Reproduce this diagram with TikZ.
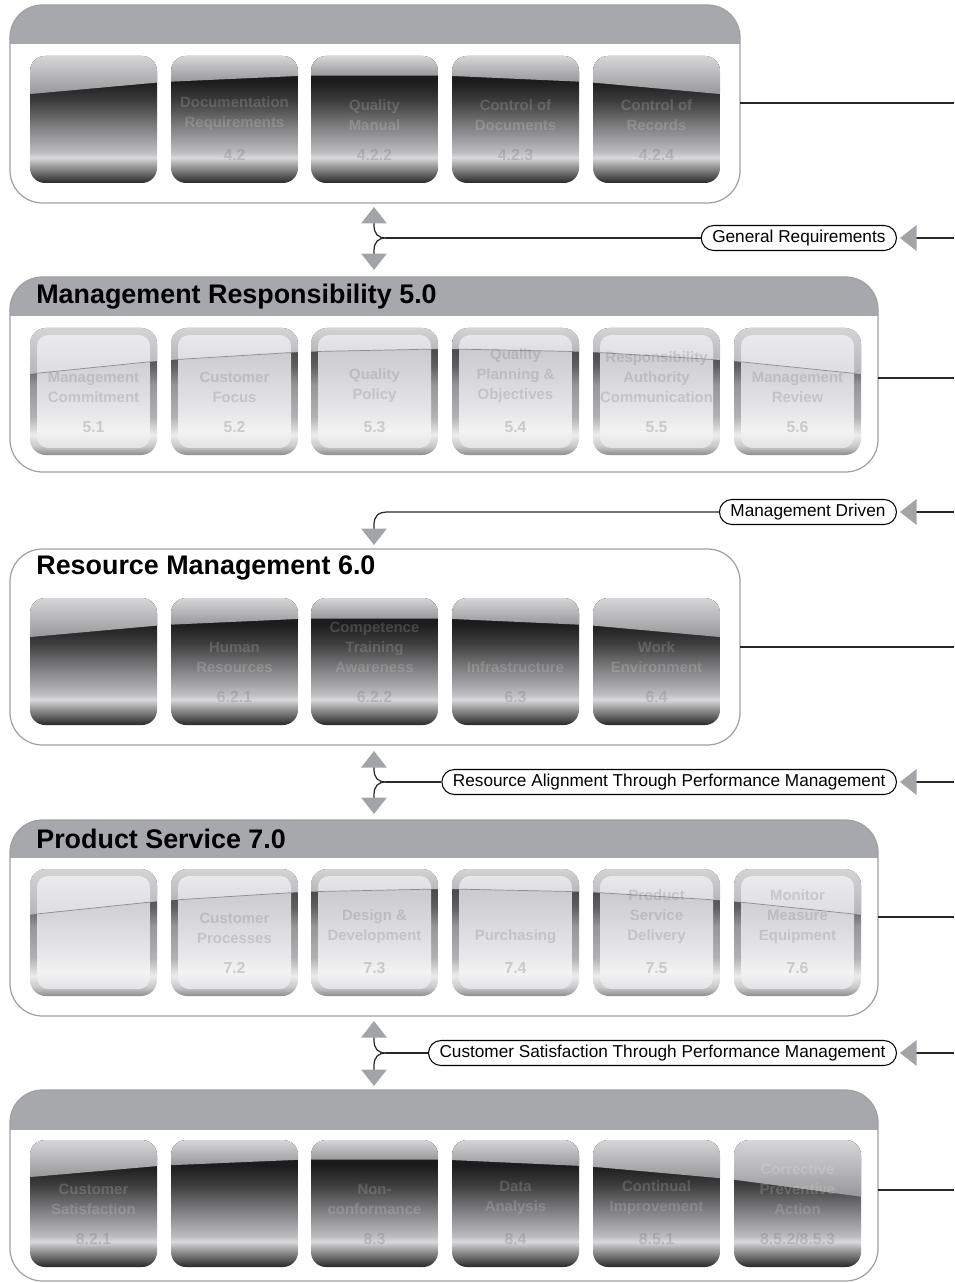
\documentclass[tikz,border=0pt]{standalone}
\usepackage{fontspec}
\setmainfont{Liberation Sans}
\usetikzlibrary{arrows.meta}

\definecolor{hdrgray}{RGB}{167,168,172}
\definecolor{panelgray}{RGB}{160,160,163}
\definecolor{arrowgray}{RGB}{163,164,167}
\definecolor{linegray}{RGB}{40,40,40}
% dark tiles
\definecolor{dk1}{RGB}{40,40,40}
\definecolor{dk2}{RGB}{100,100,100}
\definecolor{dk3}{RGB}{170,170,170}
\definecolor{dk4}{RGB}{218,218,220}
\definecolor{dk5}{RGB}{190,190,192}
\definecolor{dk6}{RGB}{125,125,127}
\definecolor{dk7}{RGB}{60,60,60}
\definecolor{dk8}{RGB}{28,28,28}
\definecolor{gltop}{RGB}{214,214,217}
\definecolor{glbot}{RGB}{152,152,155}
% light tiles
\definecolor{fr1}{RGB}{140,140,142}
\definecolor{fr2}{RGB}{200,200,202}
\definecolor{fr3}{RGB}{236,236,236}
\definecolor{fr4}{RGB}{178,178,180}
\definecolor{fr5}{RGB}{150,150,152}
\definecolor{fr6}{RGB}{95,95,97}
\definecolor{fr7}{RGB}{72,72,74}
\definecolor{frtop}{RGB}{212,212,214}
\definecolor{frbot}{RGB}{182,182,184}
\definecolor{in1}{RGB}{226,226,228}
\definecolor{in2}{RGB}{243,243,244}
\definecolor{in3}{RGB}{232,232,234}
\definecolor{in4}{RGB}{216,216,218}
\definecolor{in5}{RGB}{204,204,206}
\definecolor{intop}{RGB}{236,236,238}
\definecolor{inbot}{RGB}{222,222,224}

\pgfdeclareverticalshading{darkbody}{100bp}{color(0bp)=(dk1); color(25bp)=(dk1); color(28.5bp)=(dk2); color(32.5bp)=(dk3); color(35bp)=(dk4); color(37bp)=(dk5); color(47.5bp)=(dk6); color(57.5bp)=(dk7); color(65bp)=(dk8); color(100bp)=(dk8)}
\pgfdeclareverticalshading{framebody}{100bp}{color(0bp)=(fr1); color(25bp)=(fr1); color(28.5bp)=(fr2); color(33bp)=(fr3); color(40bp)=(fr4); color(52.5bp)=(fr5); color(60bp)=(fr6); color(67.5bp)=(fr7); color(100bp)=(fr7)}
\pgfdeclareverticalshading{innerbody}{100bp}{color(0bp)=(in1); color(25bp)=(in1); color(32.5bp)=(in2); color(40bp)=(in3); color(55bp)=(in4); color(67.5bp)=(in5); color(100bp)=(in5)}

\tikzset{
  panel/.style={draw=panelgray, line width=0.7pt, rounded corners=6.5mm},
  feed/.style={draw=linegray, line width=0.7pt},
  lbl/.style={draw=black, line width=0.6pt, fill=white, rounded corners=2.5mm, minimum height=5mm, inner xsep=2.2mm, inner ysep=0pt, font=\fontsize{9.8}{11}\selectfont},
  ttl/.style={anchor=west, inner sep=0pt, font=\bfseries\fontsize{15.3}{17}\selectfont},
  captxt/.style={anchor=south, align=center, inner sep=0pt, font=\bfseries\fontsize{8.5}{11.5}\selectfont},
  numtxt/.style={inner sep=0pt, font=\bfseries\fontsize{9}{10}\selectfont},
  glareline/.style={draw=black!45, line width=0.4pt}
}

% glare offsets of a tile at x=#1, top #2
\newcommand{\glarepts}[2]{%
  \pgfmathsetmacro\du{\rows*(#1-\rowxc)}%
  \pgfmathsetmacro\dv{\rows*(#1+127-\rowxc)}%
  \pgfmathsetmacro\gl{#2+\rowg+\du*\du}%
  \pgfmathsetmacro\gr{#2+\rowg+\dv*\dv}%
}

% #1 x, #2 top, #3 caption, #4 number, #5 name
\newcommand{\darktile}[5]{%
  \glarepts{#1}{#2}
  \begin{scope}
    \clip[rounded corners=3mm] (#1,#2) rectangle ++(127,127);
    \shade[shading=darkbody] (#1,#2) rectangle ++(127,127);
    \shade[top color=gltop, bottom color=glbot] (#1,#2) -- (#1,\gl) -- (#1+127,\gr) -- (#1+127,#2) -- cycle;%glare
  \end{scope}
  \node[captxt, text=white, text opacity=0.17] (#5c) at (#1+63.5,#2+75) {#3};
  \node[numtxt, text=black!60, text opacity=0.25] (#5n) at (#1+63.5,#2+99) {#4};
}

\newcommand{\lighttile}[5]{%
  \glarepts{#1}{#2}
  \begin{scope}
    \clip[rounded corners=3.2mm] (#1,#2) rectangle ++(127,127);
    \shade[shading=framebody] (#1,#2) rectangle ++(127,127);
    \shade[top color=frtop, bottom color=frbot] (#1,#2) -- (#1,\gl) -- (#1+127,\gr) -- (#1+127,#2) -- cycle;%glare
  \end{scope}
  \begin{scope}
    \clip[rounded corners=2.2mm] (#1+7,#2+7) rectangle (#1+120,#2+120);
    \shade[shading=innerbody] (#1+7,#2+7) rectangle (#1+120,#2+120);
    \shade[top color=intop, bottom color=inbot] (#1,#2) -- (#1,\gl) -- (#1+127,\gr) -- (#1+127,#2) -- cycle;
    \draw[glareline] (#1,\gl) -- (#1+127,\gr);
  \end{scope}
  \node[captxt, text=black!55, text opacity=0.25] (#5c) at (#1+63.5,#2+75) {#3};
  \node[numtxt, text=black!55, text opacity=0.3] (#5n) at (#1+63.5,#2+99) {#4};
}

\begin{document}
\begin{tikzpicture}[x=0.02cm, y=-0.02cm, >={Triangle[length=3.3mm,width=5.1mm,color=arrowgray]}]
\useasboundingbox (0,0) rectangle (954,1283);

%panel 1
\begin{scope}
  \clip[rounded corners=6.5mm] (10,5) rectangle (740,203);
  \fill[hdrgray] (10,5) rectangle (740,44);
\end{scope}
\draw[panel] (10,5) rectangle (740,203);
\def\rowg{19}\def\rows{0.01265}\def\rowxc{375}
\darktile{30}{56}{}{}{qa}
\darktile{171}{56}{Documentation\\Requirements}{4.2}{qb}
\darktile{311}{56}{Quality\\Manual}{4.2.2}{qc}
\darktile{452}{56}{Control of\\Documents}{4.2.3}{qd}
\darktile{593}{56}{Control of\\Records}{4.2.4}{qe}
\coordinate (p1r) at (740,103);
\coordinate (e1) at (954,103);
\draw[feed] (p1r) -- (e1);

%general requirements
\node[lbl, anchor=east] (genreq) at (897,238) {General Requirements};
\coordinate (e2) at (954,238);
\coordinate (j1) at (386,238);
\draw[feed, ->, shorten >=1.7pt] (e2) -- (genreq);
\draw[feed] (genreq) -- (j1);
\draw[feed, ->] (j1) .. controls (378,238) and (374,234) .. (374,225) -- (374,207);
\draw[feed, ->] (j1) .. controls (378,238) and (374,242) .. (374,251) -- (374,270);

%panel 2
\begin{scope}
  \clip[rounded corners=6.5mm] (10,277) rectangle (878,472);
  \fill[hdrgray] (10,277) rectangle (878,316);
\end{scope}
\draw[panel] (10,277) rectangle (878,472);
\node[ttl] (mgtttl) at (36,297) {Management Responsibility 5.0};
\def\rowg{21}\def\rows{0.01204}\def\rowxc{445}
\lighttile{30}{328}{Management\\Commitment}{5.1}{ma}
\lighttile{171}{328}{Customer\\Focus}{5.2}{mb}
\lighttile{311}{328}{Quality\\Policy}{5.3}{mc}
\lighttile{452}{328}{Quality\\Planning \&\\Objectives}{5.4}{md}
\lighttile{593}{328}{Responsibility\\Authority\\Communication}{5.5}{me}
\lighttile{734}{328}{Management\\Review}{5.6}{mf}
\coordinate (p2r) at (878,378);
\coordinate (e3) at (954,378);
\draw[feed] (p2r) -- (e3);

%management driven
\node[lbl, anchor=east] (mgtdrv) at (897,512) {Management Driven};
\coordinate (e4) at (954,512);
\draw[feed, ->, shorten >=1.7pt] (e4) -- (mgtdrv);
\draw[feed, ->] (mgtdrv) -- (388,512) .. controls (378,512) and (374,516) .. (374,525) -- (374,545);

%panel 3
\draw[panel, fill=white] (10,549) rectangle (740,745);
\node[ttl] (resttl) at (36,568) {Resource Management 6.0};
\def\rowg{20}\def\rows{0.01265}\def\rowxc{375}
\darktile{30}{598}{}{}{ra}
\darktile{171}{598}{Human\\Resources}{6.2.1}{rb}
\darktile{311}{598}{Competence\\Training\\Awareness}{6.2.2}{rc}
\darktile{452}{598}{Infrastructure}{6.3}{rd}
\darktile{593}{598}{Work\\Environment}{6.4}{re}
\coordinate (p3r) at (740,647);
\coordinate (e5) at (954,647);
\draw[feed] (p3r) -- (e5);

%resource alignment
\node[lbl, anchor=east] (resalg) at (897,782) {Resource Alignment Through Performance Management};
\coordinate (e6) at (954,782);
\coordinate (j2) at (386,782);
\draw[feed, ->, shorten >=1.7pt] (e6) -- (resalg);
\draw[feed] (resalg) -- (j2);
\draw[feed, ->] (j2) .. controls (378,782) and (374,778) .. (374,769) -- (374,751);
\draw[feed, ->] (j2) .. controls (378,782) and (374,786) .. (374,795) -- (374,814);

%panel 4
\begin{scope}
  \clip[rounded corners=6.5mm] (10,820) rectangle (878,1016);
  \fill[hdrgray] (10,820) rectangle (878,858);
\end{scope}
\draw[panel] (10,820) rectangle (878,1016);
\node[ttl] (prdttl) at (36,839) {Product Service 7.0};
\def\rowg{20}\def\rows{0.0122}\def\rowxc{445}
\lighttile{30}{869}{}{}{pa}
\lighttile{171}{869}{Customer\\Processes}{7.2}{pb}
\lighttile{311}{869}{Design \&\\Development}{7.3}{pc}
\lighttile{452}{869}{Purchasing}{7.4}{pd}
\lighttile{593}{869}{Product\\Service\\Delivery}{7.5}{pe}
\lighttile{734}{869}{Monitor\\Measure\\Equipment}{7.6}{pf}
\coordinate (p4r) at (878,917);
\coordinate (e7) at (954,917);
\draw[feed] (p4r) -- (e7);

%customer satisfaction
\node[lbl, anchor=east] (cussat) at (897,1053) {Customer Satisfaction Through Performance Management};
\coordinate (e8) at (954,1053);
\coordinate (j3) at (386,1053);
\draw[feed, ->, shorten >=1.7pt] (e8) -- (cussat);
\draw[feed] (cussat) -- (j3);
\draw[feed, ->] (j3) .. controls (378,1053) and (374,1049) .. (374,1040) -- (374,1021);
\draw[feed, ->] (j3) .. controls (378,1053) and (374,1057) .. (374,1066) -- (374,1086);

%panel 5
\begin{scope}
  \clip[rounded corners=6.5mm] (10,1090) rectangle (878,1281);
  \fill[hdrgray] (10,1090) rectangle (878,1130);
\end{scope}
\draw[panel] (10,1090) rectangle (878,1281);
\def\rowg{19}\def\rows{0.0125}\def\rowxc{370}
\darktile{30}{1140}{Customer\\Satisfaction}{8.2.1}{sa}
\darktile{171}{1140}{}{}{sb}
\darktile{311}{1140}{Non-\\conformance}{8.3}{sc}
\darktile{452}{1140}{Data\\Analysis}{8.4}{sd}
\darktile{593}{1140}{Continual\\Improvement}{8.5.1}{se}
\darktile{734}{1140}{Corrective\\Preventive\\Action}{8.5.2/8.5.3}{sf}
\coordinate (p5r) at (878,1190);
\coordinate (e9) at (954,1190);
\draw[feed] (p5r) -- (e9);
\end{tikzpicture}
\end{document}
